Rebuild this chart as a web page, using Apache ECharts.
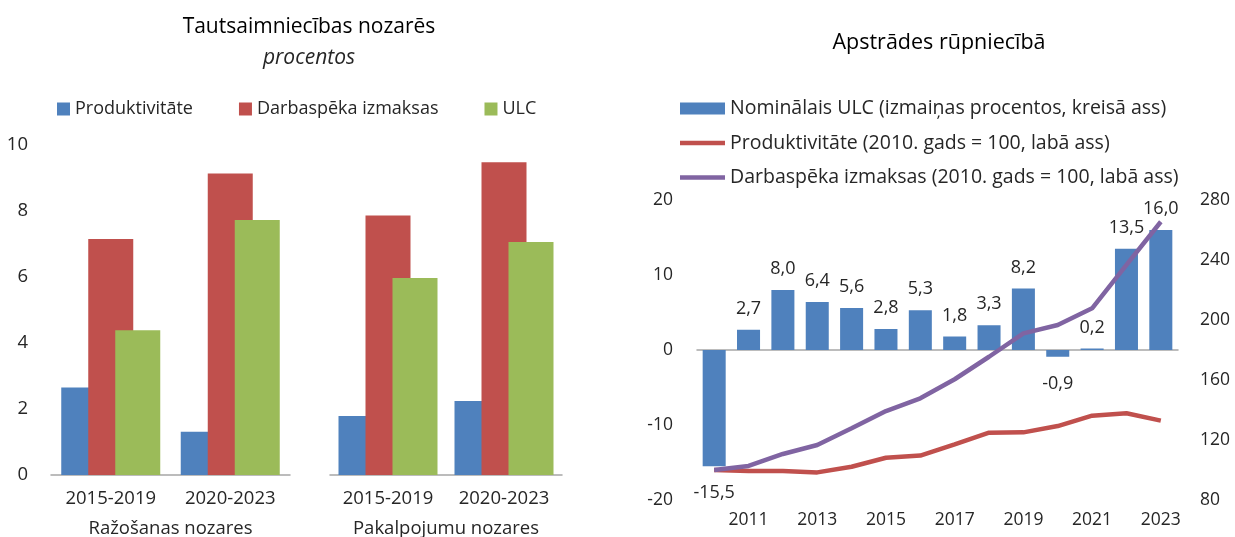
<!DOCTYPE html>
<html>
<head>
<meta charset="utf-8">
<script src="https://cdn.jsdelivr.net/npm/echarts@6/dist/echarts.min.js"></script>
<style>
  html, body { margin: 0; padding: 0; background: #fff; }
  #chart { width: 1235px; height: 537px; }
</style>
</head>
<body>
<div id="chart"></div>
<script>
// kreisais grafiks: tautsaimniecības nozares
var periods = ['2015-2019', '2020-2023']
var razProduktivitate = [2.65, 1.31]
var razDarbaspeks = [7.15, 9.14]
var razUlc = [4.39, 7.73]
var pakProduktivitate = [1.79, 2.24]
var pakDarbaspeks = [7.86, 9.48]
var pakUlc = [5.97, 7.06]
var leftTicks = [0, 2, 4, 6, 8, 10]

// labais grafiks: apstrādes rūpniecība
var years = ['2010', '2011', '2012', '2013', '2014', '2015', '2016', '2017', '2018', '2019', '2020', '2021', '2022', '2023']
var ulcChange = [-15.5, 2.7, 8.0, 6.4, 5.6, 2.8, 5.3, 1.8, 3.3, 8.2, -0.9, 0.2, 13.5, 16.0]
var productivity = [100, 99.3, 99.3, 98.4, 102.2, 108.2, 109.6, 117.1, 124.9, 125.1, 129.3, 136.2, 137.8, 132.9]
var labourCost = [100, 102.7, 110.7, 116.7, 127.8, 139.3, 147.8, 160.5, 175.5, 191.1, 196.7, 207.8, 236.7, 265.5]

var FONT = 'Open Sans'
var TXT = '#262626'
var AXIS = '#a6a6a6'
var BLUE = '#4F81BD'
var RED = '#C0504D'
var GREEN = '#9BBB59'
var PURPLE = '#8064A2'
var LINE_ICON = 'path://M0,0 L100,0 L100,10 L0,10 Z'

var chart = echarts.init(document.getElementById('chart'))

function groupBars (name, color, data, idx) {
  return {
    name: name,
    type: 'bar',
    xAxisIndex: idx,
    yAxisIndex: idx,
    data: data,
    barWidth: 45,
    barGap: '-40%',
    itemStyle: { color: color },
    emphasis: { disabled: true }
  }
}

function periodAxis (idx, name) {
  return {
    type: 'category',
    gridIndex: idx,
    data: periods,
    name: name,
    nameLocation: 'middle',
    nameGap: 44,
    nameTextStyle: { fontFamily: FONT, fontSize: 18.5, color: TXT },
    axisLine: { lineStyle: { color: AXIS, width: 1.5 } },
    axisTick: { length: 6, lineStyle: { color: AXIS, width: 1.5 } },
    axisLabel: { fontFamily: FONT, fontSize: 18.5, color: TXT, margin: 14, interval: 0, hideOverlap: false }
  }
}

function fmt (v) {
  return v.toFixed(1).replace('.', ',')
}

chart.setOption({
  animation: false,
  title: [
    {
      text: 'Tautsaimniecības nozarēs',
      subtext: 'procentos',
      left: 309,
      top: 17,
      textAlign: 'center',
      itemGap: 10,
      padding: 0,
      textStyle: { fontFamily: FONT, fontSize: 21, fontWeight: 'normal', color: '#000' },
      subtextStyle: { fontFamily: FONT, fontSize: 21, fontStyle: 'italic', color: TXT }
    },
    {
      text: 'Apstrādes rūpniecībā',
      left: 939,
      top: 32,
      textAlign: 'center',
      padding: 0,
      textStyle: { fontFamily: FONT, fontSize: 21.5, fontWeight: 'normal', color: '#000' }
    }
  ],
  legend: [
    {
      left: 57,
      top: 100,
      padding: 0,
      icon: 'rect',
      itemWidth: 13,
      itemHeight: 13,
      itemGap: 46,
      selectedMode: false,
      data: ['Produktivitāte', 'Darbaspēka izmaksas', 'ULC'],
      textStyle: { fontFamily: FONT, fontSize: 18, color: TXT }
    },
    {
      left: 680,
      top: 98,
      padding: 0,
      orient: 'vertical',
      itemWidth: 45,
      itemHeight: 12,
      itemGap: 13.5,
      selectedMode: false,
      data: [
        { name: 'Nominālais ULC (izmaiņas procentos, kreisā ass)', icon: 'rect' },
        { name: 'Produktivitāte (2010. gads = 100, labā ass)', icon: LINE_ICON },
        { name: 'Darbaspēka izmaksas (2010. gads = 100, labā ass)', icon: LINE_ICON }
      ],
      textStyle: { fontFamily: FONT, fontSize: 19.5, color: TXT, lineHeight: 21 }
    }
  ],
  grid: [
    { left: 51, width: 239, top: 145, bottom: 62, outerBoundsMode: 'none' },
    { left: 330, width: 232, top: 145, bottom: 62, outerBoundsMode: 'none' },
    { left: 697, width: 481, top: 200, bottom: 37, outerBoundsMode: 'none' }
  ],
  xAxis: [
    periodAxis(0, 'Ražošanas nozares'),
    periodAxis(1, 'Pakalpojumu nozares'),
    {
      type: 'category',
      gridIndex: 2,
      data: years,
      position: 'bottom',
      axisLine: { show: false, onZero: false },
      axisTick: { show: false },
      axisLabel: {
        fontFamily: FONT, fontSize: 17.5, color: TXT, margin: 11,
        interval: function (i) { return i % 2 === 1 }
      }
    },
    {
      type: 'category',
      gridIndex: 2,
      data: years,
      position: 'bottom',
      axisLine: { onZero: true, lineStyle: { color: AXIS, width: 1.5 } },
      axisTick: { length: 6, lineStyle: { color: AXIS, width: 1.5 } },
      axisLabel: { show: false }
    }
  ],
  yAxis: [
    {
      type: 'value',
      gridIndex: 0,
      min: leftTicks[0],
      max: leftTicks[leftTicks.length - 1],
      interval: 2,
      splitLine: { show: false },
      axisLine: { show: false },
      axisLabel: { fontFamily: FONT, fontSize: 18.5, color: TXT, margin: 23 }
    },
    {
      type: 'value',
      gridIndex: 1,
      min: leftTicks[0],
      max: leftTicks[leftTicks.length - 1],
      interval: 2,
      splitLine: { show: false },
      axisLine: { show: false },
      axisLabel: { show: false }
    },
    {
      type: 'value',
      gridIndex: 2,
      min: -20,
      max: 20,
      interval: 10,
      splitLine: { show: false },
      axisLine: { show: false },
      axisLabel: { fontFamily: FONT, fontSize: 17.5, color: TXT, margin: 24 }
    },
    {
      type: 'value',
      gridIndex: 2,
      position: 'right',
      min: 80,
      max: 280,
      interval: 40,
      splitLine: { show: false },
      axisLine: { show: false },
      axisLabel: { fontFamily: FONT, fontSize: 17.5, color: TXT, margin: 22 }
    }
  ],
  series: [
    groupBars('Produktivitāte', BLUE, razProduktivitate, 0),
    groupBars('Darbaspēka izmaksas', RED, razDarbaspeks, 0),
    groupBars('ULC', GREEN, razUlc, 0),
    groupBars('Produktivitāte', BLUE, pakProduktivitate, 1),
    groupBars('Darbaspēka izmaksas', RED, pakDarbaspeks, 1),
    groupBars('ULC', GREEN, pakUlc, 1),
    {
      name: 'Nominālais ULC (izmaiņas procentos, kreisā ass)',
      type: 'bar',
      xAxisIndex: 2,
      yAxisIndex: 2,
      barCategoryGap: '33%',
      itemStyle: { color: BLUE },
      emphasis: { disabled: true },
      label: {
        show: true,
        fontFamily: FONT,
        fontSize: 18,
        color: TXT,
        formatter: function (p) { return fmt(p.value) }
      },
      data: ulcChange.map(function (v) {
        return {
          value: v,
          label: { position: v < 0 ? 'bottom' : 'top', distance: v < 0 ? 18 : 12 }
        }
      })
    },
    {
      name: 'Produktivitāte (2010. gads = 100, labā ass)',
      type: 'line',
      xAxisIndex: 2,
      yAxisIndex: 3,
      data: productivity,
      symbol: 'none',
      lineStyle: { color: RED, width: 4.5 },
      itemStyle: { color: RED },
      emphasis: { disabled: true },
      z: 3
    },
    {
      name: 'Darbaspēka izmaksas (2010. gads = 100, labā ass)',
      type: 'line',
      xAxisIndex: 2,
      yAxisIndex: 3,
      data: labourCost,
      symbol: 'none',
      lineStyle: { color: PURPLE, width: 4.5 },
      itemStyle: { color: PURPLE },
      emphasis: { disabled: true },
      z: 4
    }
  ]
})
</script>
</body>
</html>
